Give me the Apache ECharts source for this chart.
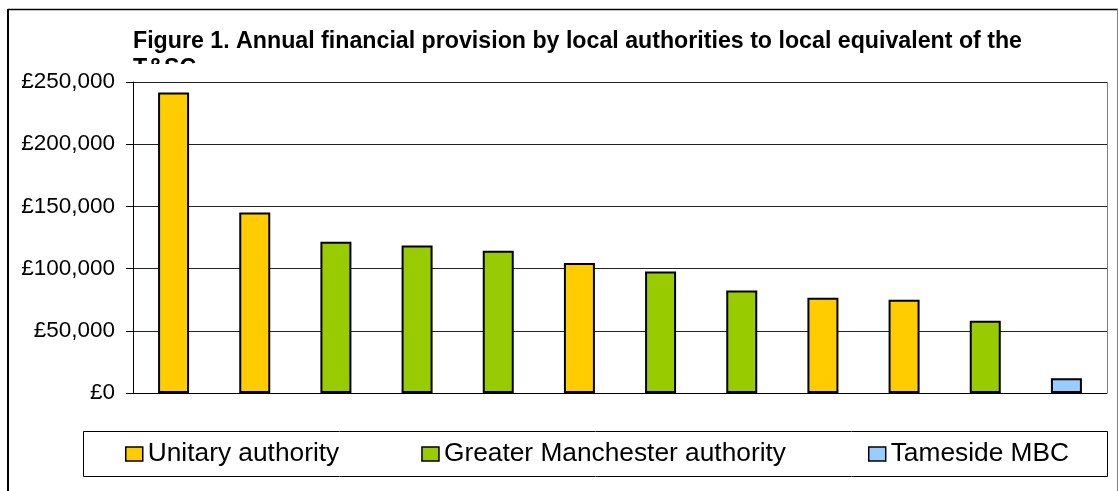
<!DOCTYPE html>
<html>
<head>
<meta charset="utf-8">
<script src="https://cdn.jsdelivr.net/npm/echarts@6/dist/echarts.min.js"></script>
<style>
  html, body { margin: 0; padding: 0; background: #fff; }
  #chart { width: 1119px; height: 491px; }
</style>
</head>
<body>
<div id="chart"></div>
<script>
// ---- data ----
const categories = ['1', '2', '3', '4', '5', '6', '7', '8', '9', '10', '11', '12'];
const seriesNames = ['Unitary authority', 'Greater Manchester authority', 'Tameside MBC'];
const unitaryValues = [241500, 145000, '-', '-', '-', 104600, '-', '-', 76500, 74900, '-', '-'];
const greaterManchesterValues = ['-', '-', 121500, 118500, 114300, '-', 97600, 82300, '-', '-', 58000, '-'];
const tamesideValues = ['-', '-', '-', '-', '-', '-', '-', '-', '-', '-', '-', 11800];
const yTicks = { min: 0, max: 250000, interval: 50000 };
const titleLine1 = 'Figure 1. Annual financial provision by local authorities to local equivalent of the';
const titleLine2 = 'T&SC';

const colors = ['#FFCC00', '#99CC00', '#99CCFF'];
const FONT = '"Liberation Sans", Arial, sans-serif';

const chart = echarts.init(document.getElementById('chart'), null, { renderer: 'canvas' });

function barSeries(name, data, color) {
  return {
    name: name,
    type: 'bar',
    stack: 'all',
    data: data,
    barWidth: 31,
    itemStyle: { color: color, borderColor: '#000', borderWidth: 2 },
    emphasis: { disabled: true }
  };
}

chart.setOption({
  animation: false,
  backgroundColor: '#fff',
  title: {
    text: titleLine1 + '\n' + titleLine2,
    left: 133,
    top: 28,
    padding: 0,
    textStyle: { fontFamily: FONT, fontWeight: 'bold', fontSize: 23.2, color: '#000', lineHeight: 27 }
  },
  grid: { left: 133, right: 12, top: 82, bottom: 98, containLabel: false },
  legend: {
    data: seriesNames,
    left: 125,
    top: 441,
    padding: 0,
    itemGap: 82,
    itemWidth: 17,
    itemHeight: 14,
    icon: 'rect',
    itemStyle: { borderColor: '#000', borderWidth: 1.5 },
    textStyle: { fontFamily: FONT, fontSize: 26.3, color: '#000', padding: [0, 0, 0, 0] },
    selectedMode: false
  },
  xAxis: {
    type: 'category',
    data: categories,
    axisLine: { show: true, lineStyle: { color: '#000', width: 1 } },
    axisTick: { show: false },
    axisLabel: { show: false },
    splitLine: { show: false }
  },
  yAxis: {
    type: 'value',
    min: yTicks.min,
    max: yTicks.max,
    interval: yTicks.interval,
    axisLine: { show: true, lineStyle: { color: '#000', width: 1 } },
    axisTick: { show: true, length: 7, lineStyle: { color: '#000' } },
    axisLabel: {
      margin: 18,
      fontFamily: FONT,
      fontSize: 22.5,
      color: '#000',
      formatter: function (v) { return '£' + v.toLocaleString('en-GB'); }
    },
    splitLine: { show: true, lineStyle: { color: '#222', width: 1 } }
  },
  graphic: [
    // clip the overflowing second title line
    { type: 'rect', z: 100, shape: { x: 125, y: 64, width: 120, height: 17 }, style: { fill: '#fff' } },
    // right plot border
    { type: 'line', z: 50, shape: { x1: 1107.5, y1: 82, x2: 1107.5, y2: 393 }, style: { stroke: '#808080', lineWidth: 1 } },
    // legend box
    { type: 'rect', z: 50, shape: { x: 83.5, y: 431.5, width: 1024, height: 45 }, style: { fill: 'none', stroke: '#000', lineWidth: 1 } },
    // outer chart frame
    { type: 'line', z: 50, shape: { x1: 8, y1: 9.5, x2: 1118, y2: 9.5 }, style: { stroke: '#000', lineWidth: 1.6 } },
    { type: 'line', z: 50, shape: { x1: 8, y1: 9, x2: 8, y2: 491 }, style: { stroke: '#000', lineWidth: 2 } },
    { type: 'line', z: 50, shape: { x1: 1117.5, y1: 9, x2: 1117.5, y2: 491 }, style: { stroke: '#808080', lineWidth: 1 } }
  ],
  series: [
    barSeries(seriesNames[0], unitaryValues, colors[0]),
    barSeries(seriesNames[1], greaterManchesterValues, colors[1]),
    barSeries(seriesNames[2], tamesideValues, colors[2])
  ]
});
</script>
</body>
</html>
